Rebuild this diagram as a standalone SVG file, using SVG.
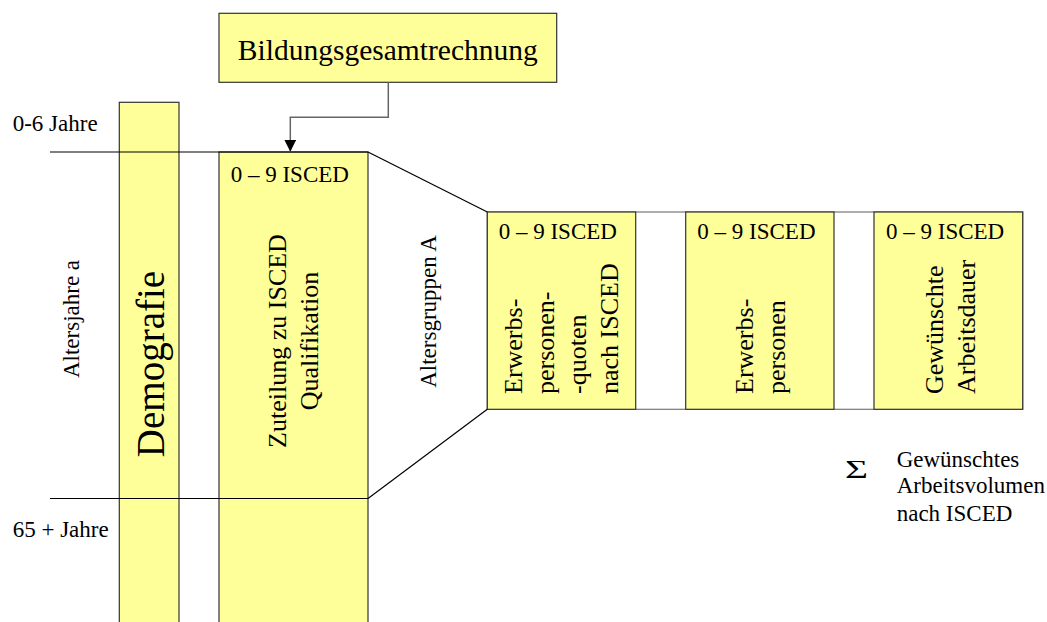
<svg xmlns="http://www.w3.org/2000/svg" width="1047" height="622" viewBox="0 0 1047 622">
<style>
.box{fill:#FFFF99;stroke:#333;stroke-width:1.2}
.t{font-family:"Liberation Serif","Times New Roman",serif;fill:#000}
.s{font-size:23px}
.m{font-size:26px}
.ln{stroke:#000;stroke-width:1.2;fill:none}
</style>
<defs>
<marker id="ah" markerWidth="12" markerHeight="12" refX="12" refY="6" orient="auto" markerUnits="userSpaceOnUse">
<path d="M0,0 L12,6 L0,12 Z" fill="#000"/>
</marker>
</defs>
<rect x="487.3" y="212" width="535.4" height="197.3" fill="none" stroke="#777" stroke-width="1.2"/>
<g id="demografie">
<rect class="box" x="119.3" y="102.3" width="59.7" height="530"/>
<text class="t" font-size="39" text-anchor="middle" transform="translate(164 364) rotate(-90)">Demografie</text>
</g>
<g id="zuteilung">
<rect class="box" x="219" y="152" width="149" height="480"/>
<text class="t s" x="230.7" y="181.7">0 – 9 ISCED</text>
<text class="t m" text-anchor="middle" transform="translate(286 341) rotate(-90)">Zuteilung zu ISCED</text>
<text class="t m" text-anchor="middle" transform="translate(318 341) rotate(-90)">Qualifikation</text>
</g>
<g id="bildung">
<rect class="box" x="219" y="13.3" width="337.7" height="69"/>
<text class="t" font-size="29.5" x="387.8" y="60" text-anchor="middle">Bildungsgesamtrechnung</text>
</g>
<g id="quoten">
<rect class="box" x="487.3" y="212" width="148.4" height="197.3"/>
<text class="t s" x="498.7" y="239.3">0 – 9 ISCED</text>
<text class="t m" transform="translate(521.7 394) rotate(-90)">Erwerbs-</text>
<text class="t m" transform="translate(553.9 394) rotate(-90)">personen-</text>
<text class="t m" transform="translate(586.1 394) rotate(-90)">-quoten</text>
<text class="t m" transform="translate(618.3 394) rotate(-90)">nach ISCED</text>
</g>
<g id="personen">
<rect class="box" x="685.7" y="212" width="148.3" height="197.3"/>
<text class="t s" x="697.3" y="239.3">0 – 9 ISCED</text>
<text class="t m" transform="translate(753 394) rotate(-90)">Erwerbs-</text>
<text class="t m" transform="translate(785 394) rotate(-90)">personen</text>
</g>
<g id="dauer">
<rect class="box" x="874" y="212" width="148.7" height="197.3"/>
<text class="t s" x="886" y="239.3">0 – 9 ISCED</text>
<text class="t m" transform="translate(943 394) rotate(-90)">Gewünschte</text>
<text class="t m" transform="translate(975 394) rotate(-90)">Arbeitsdauer</text>
</g>
<g id="connectors">
<line class="ln" x1="50" y1="152" x2="368" y2="152"/>
<line class="ln" x1="50" y1="498.5" x2="368" y2="498.5"/>
<line class="ln" x1="368" y1="152" x2="487.3" y2="212"/>
<line class="ln" x1="368" y1="498.5" x2="487.3" y2="409.3"/>
<polyline points="388.3,82.3 388.3,117.3 290.3,117.3 290.3,151.7" fill="none" stroke="#666" stroke-width="1.5" marker-end="url(#ah)"/>
</g>
<g id="labels">
<text class="t s" x="12.7" y="130.7">0-6 Jahre</text>
<text class="t s" x="12.7" y="537">65 + Jahre</text>
<text class="t s" text-anchor="middle" transform="translate(79 319) rotate(-90)">Altersjahre a</text>
<text class="t s" text-anchor="middle" transform="translate(436 311.5) rotate(-90)">Altersgruppen A</text>
<text class="t" font-size="26" x="845" y="477.7" textLength="23" lengthAdjust="spacingAndGlyphs">Σ</text>
<text class="t s" x="896.7" y="466.7">Gewünschtes</text>
<text class="t s" x="896.7" y="493.3">Arbeitsvolumen</text>
<text class="t s" x="896.7" y="520.7">nach ISCED</text>
</g>
</svg>
